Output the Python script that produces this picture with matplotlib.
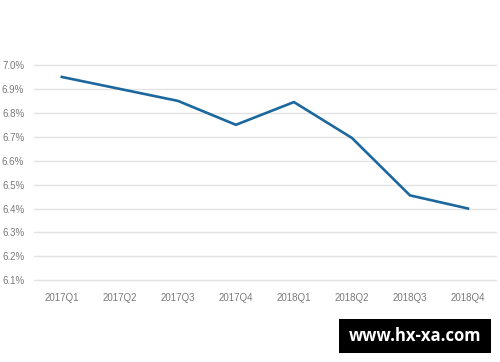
import matplotlib
matplotlib.use("Agg")
import matplotlib.pyplot as plt
from matplotlib.patches import Rectangle

quarters = ["2017Q1", "2017Q2", "2017Q3", "2017Q4", "2018Q1", "2018Q2", "2018Q3", "2018Q4"]
values = [6.95, 6.90, 6.85, 6.75, 6.845, 6.695, 6.455, 6.40]
yticks = [6.1, 6.2, 6.3, 6.4, 6.5, 6.6, 6.7, 6.8, 6.9, 7.0]
ytick_labels = ["6.1%", "6.2%", "6.3%", "6.4%", "6.5%", "6.6%", "6.7%", "6.8%", "6.9%", "7.0%"]

plt.rcParams['font.family'] = ['Liberation Sans', 'DejaVu Sans']

fig = plt.figure(figsize=(5, 3.62), dpi=100)
# pixel geometry: 6.1% at y=280.3, 7.0% at y=65; pad a few pixels so edge gridlines aren't clipped
px_per_unit = (280.3 - 65) / 0.9
pad = 3 / px_per_unit
top_px = 65 - 3
bot_px = 280.3 + 3
ax = fig.add_axes([0.068, 1 - bot_px / 362, 0.994 - 0.068, (bot_px - top_px) / 362])

x = list(range(len(quarters)))
ax.plot(x, values, color="#1c689e", linewidth=1.9, solid_joinstyle="miter", zorder=3)

ax.set_xlim(-0.48, 7.5)
ax.set_ylim(6.1 - pad, 7.0 + pad)
ax.set_yticks(yticks)
ax.set_yticklabels(ytick_labels)
ax.set_xticks(x)
ax.set_xticklabels(quarters)
ax.grid(axis="y", color="#e3e3e3", linewidth=1.0)
ax.grid(axis="x", visible=False)
for s in ax.spines.values():
    s.set_visible(False)
ax.tick_params(axis="both", length=0, labelsize=7, colors="#7a7a7a")
ax.tick_params(axis="y", pad=7)
ax.tick_params(axis="x", pad=7)
ax.set_axisbelow(True)

# watermark
fig.patches.append(Rectangle((339 / 500, 1 - 352.5 / 362), (491 - 339) / 500, (352.5 - 319) / 362,
                             transform=fig.transFigure, facecolor="black", edgecolor="none"))
fig.text((339 + 491) / 2 / 500, 1 - 336 / 362, "www.hx-xa.com", color="white", fontsize=12,
         fontweight="bold", ha="center", va="center", family=["Open Sans", "DejaVu Sans"])

fig.savefig("out.png", dpi=100)
